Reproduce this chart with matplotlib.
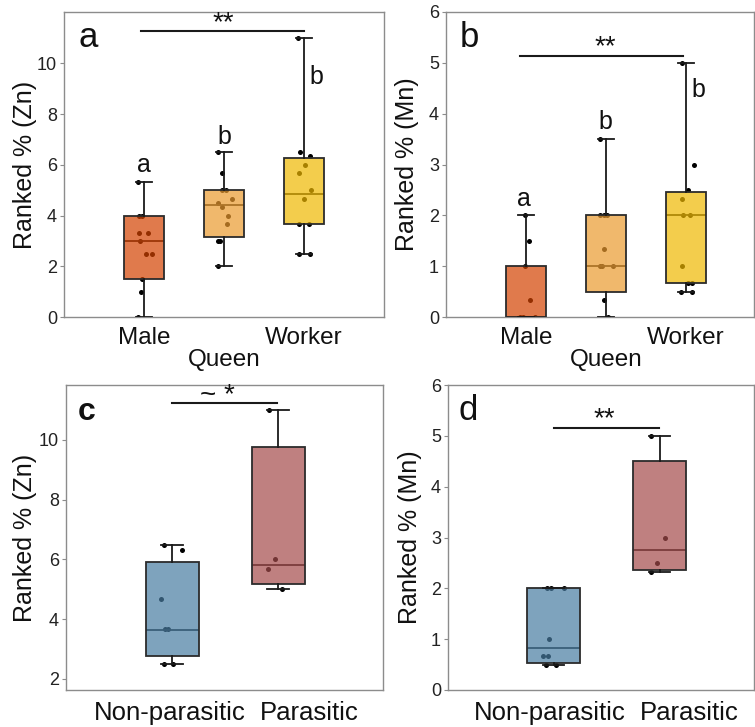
import matplotlib
matplotlib.use('Agg')
import matplotlib.pyplot as plt
from matplotlib.colors import to_rgba
from matplotlib.transforms import ScaledTranslation

plt.rcParams['font.family'] = ['Liberation Sans', 'DejaVu Sans']

# ---------- data ----------
caste = ['Male', 'Queen', 'Worker']
para = ['Non-parasitic', 'Parasitic']

# panel a : Zn by caste
zn_male = [5.33, 4.0, 4.0, 3.33, 3.33, 3.0, 2.5, 2.5, 1.5, 1.0, 0.0]
zn_queen = [6.5, 5.67, 5.0, 5.0, 4.67, 4.5, 4.33, 4.0, 3.67, 3.0, 3.0, 2.0]
zn_worker = [11.0, 6.5, 6.33, 6.0, 5.67, 5.0, 4.67, 3.67, 3.67, 2.5, 2.5]
jit_zn_male = [-0.07, -0.06, -0.02, -0.06, 0.05, -0.05, 0.03, 0.10, -0.02, -0.04, -0.08]
jit_zn_queen = [-0.07, -0.03, -0.025, 0.02, 0.10, -0.08, -0.03, 0.05, 0.04, -0.08, -0.05, -0.07]
jit_zn_worker = [-0.07, -0.05, 0.07, 0.01, -0.06, 0.09, 0.0, -0.06, 0.06, -0.06, 0.08]
# box stats: q1, median, q3, whisker low, whisker high
box_zn_caste = [(1.5, 3.0, 4.0, 0.0, 5.33),
                (3.17, 4.42, 5.0, 2.0, 6.5),
                (3.67, 4.83, 6.25, 2.5, 11.0)]

# panel b : Mn by caste
mn_male = [2.0, 1.5, 1.0, 0.33, 0.0, 0.0, 0.0]
mn_queen = [3.5, 2.0, 2.0, 2.0, 1.33, 1.0, 1.0, 1.0, 0.33, 0.0]
mn_worker = [5.0, 3.0, 2.5, 2.33, 2.0, 2.0, 1.0, 0.67, 0.67, 0.5, 0.5]
jit_mn_male = [-0.01, 0.04, -0.01, 0.05, -0.08, -0.04, 0.11]
jit_mn_queen = [-0.08, -0.08, -0.03, 0.01, -0.02, -0.08, -0.05, 0.09, -0.03, 0.03]
jit_mn_worker = [-0.05, 0.10, 0.02, -0.05, -0.04, 0.05, -0.05, 0.02, 0.07, -0.06, 0.08]
box_mn_caste = [(0.0, 0.0, 1.0, 0.0, 2.0),
                (0.5, 1.0, 2.0, 0.0, 3.5),
                (0.67, 2.0, 2.46, 0.5, 5.0)]

# panel c : Zn by parasitism
zn_np = [6.5, 6.33, 4.67, 3.67, 3.67, 2.5, 2.5]
zn_p = [11.0, 6.0, 5.67, 5.0]
jit_zn_np = [-0.075, 0.09, -0.10, -0.065, -0.035, -0.075, 0.01]
jit_zn_p = [-0.085, -0.03, -0.09, 0.035]
box_zn_para = [(2.77, 3.65, 5.9, 2.5, 6.5),
               (5.17, 5.83, 9.75, 5.0, 11.0)]

# panel d : Mn by parasitism
mn_np = [2.0, 2.0, 2.0, 1.0, 0.67, 0.67, 0.5, 0.5]
mn_p = [5.0, 3.0, 2.5, 2.33]
jit_mn_np = [-0.065, -0.025, 0.10, -0.05, -0.10, -0.055, -0.07, 0.02]
jit_mn_p = [-0.08, 0.045, -0.025, -0.08]
box_mn_para = [(0.54, 0.83, 2.0, 0.5, 2.0),
               (2.37, 2.75, 4.5, 2.33, 5.0)]

caste_colors = ['#D34200', '#EB9A2E', '#EFB800']
para_colors = ['#487CA1', '#A44B4B']

W, H = 755, 727
fig = plt.figure(figsize=(W / 100, H / 100), dpi=100)


def make_ax(left, top, right, bottom):
    return fig.add_axes([left / W, 1 - bottom / H, (right - left) / W, (bottom - top) / H])


def draw_panel(ax, labels, groups, jitters, boxes, colors, xlim, ylim, yticks, ylabel, xsize):
    pos = list(range(1, len(labels) + 1))
    stats = []
    for (q1, med, q3, lo, hi) in boxes:
        stats.append(dict(q1=q1, med=med, q3=q3, whislo=lo, whishi=hi, fliers=[]))
    res = ax.bxp(stats, positions=pos, widths=0.5, capwidths=0.2, patch_artist=True,
                 showfliers=False,
                 boxprops=dict(edgecolor='#2b2b2b', linewidth=1.3, zorder=3),
                 whiskerprops=dict(color='#1a1a1a', linewidth=1.3, zorder=3),
                 capprops=dict(color='#1a1a1a', linewidth=1.3, zorder=3),
                 medianprops=dict(color='#1a1a1a', linewidth=1.3, zorder=2))
    for patch, c in zip(res['boxes'], colors):
        patch.set_facecolor(to_rgba(c, 0.7))
    for p, vals, jit in zip(pos, groups, jitters):
        ax.scatter([p + j for j in jit], vals, s=13, color='black', zorder=1, linewidths=0)
    ax.set_xlim(*xlim)
    ax.set_ylim(*ylim)
    ax.set_yticks(yticks)
    ax.set_xticks(pos)
    ax.set_xticklabels(labels)
    for s in ax.spines.values():
        s.set_color('#8c8c8c')
        s.set_linewidth(1.0)
    ax.tick_params(axis='y', length=3, width=0.8, color='#8c8c8c', pad=2,
                   labelsize=13, labelcolor='#222222')
    ax.tick_params(axis='x', length=0, pad=7, labelsize=xsize, labelcolor='#111111')
    ax.set_ylabel(ylabel, fontsize=18, color='#111111', va='center')


def sig(ax, x0, x1, y, tx, ty, text):
    ax.plot([x0, x1], [y, y], color='#1a1a1a', lw=1.5, zorder=4)
    ax.text(tx, ty, text, ha='center', va='baseline', fontsize=20, color='#111111')


def shift_xlabels(ax, shifts_px):
    for lab, dx in zip(ax.get_xticklabels(), shifts_px):
        lab.set_transform(lab.get_transform() + ScaledTranslation(dx / 100, 0, fig.dpi_scale_trans))


# ---- a ----
ax_a = make_ax(64, 12, 384, 317)
draw_panel(ax_a, caste, [zn_male, zn_queen, zn_worker],
           [jit_zn_male, jit_zn_queen, jit_zn_worker], box_zn_caste, caste_colors,
           (0, 4), (0, 12.02), [0, 2, 4, 6, 8, 10], 'Ranked % (Zn)', 17.5)
ax_a.xaxis.get_major_ticks()[1].set_pad(23)
ax_a.yaxis.set_label_coords(-0.122, 0.5)
sig(ax_a, 0.96, 3.0, 11.27, 1.99, 11.3, '**')
for x, y, t in [(1, 6.0, 'a'), (2, 7.1, 'b'), (3.16, 9.45, 'b')]:
    ax_a.text(x, y, t, ha='center', va='center', fontsize=18, color='#111111')
ax_a.text(0.044, 0.885, 'a', transform=ax_a.transAxes, fontsize=25, color='#111111')

# ---- b ----
ax_b = make_ax(446, 12, 754, 317)
draw_panel(ax_b, caste, [mn_male, mn_queen, mn_worker],
           [jit_mn_male, jit_mn_queen, jit_mn_worker], box_mn_caste, caste_colors,
           (0, 3.85), (0, 6), [0, 1, 2, 3, 4, 5, 6], 'Ranked % (Mn)', 17.5)
ax_b.xaxis.get_major_ticks()[1].set_pad(23)
ax_b.yaxis.set_label_coords(-0.127, 0.5)
sig(ax_b, 0.92, 2.96, 5.13, 1.99, 5.16, '**')
for x, y, t in [(0.98, 2.32, 'a'), (1.99, 3.84, 'b'), (3.15, 4.47, 'b')]:
    ax_b.text(x, y, t, ha='center', va='center', fontsize=18, color='#111111')
ax_b.text(0.045, 0.885, 'b', transform=ax_b.transAxes, fontsize=25, color='#111111')

# ---- c ----
ax_c = make_ax(66, 385, 383, 690)
draw_panel(ax_c, para, [zn_np, zn_p], [jit_zn_np, jit_zn_p], box_zn_para, para_colors,
           (0, 2.99), (1.63, 11.84), [2, 4, 6, 8, 10], 'Ranked % (Zn)', 18.5)
ax_c.tick_params(axis='x', pad=8)
shift_xlabels(ax_c, [-2, 31])
ax_c.yaxis.set_label_coords(-0.129, 0.5)
sig(ax_c, 1.0, 1.99, 11.25, 1.43, 11.24, '~ *')
ax_c.text(0.038, 0.885, 'c', transform=ax_c.transAxes, fontsize=23, fontweight='bold',
          color='#111111')

# ---- d ----
ax_d = make_ax(448, 385, 754, 690)
draw_panel(ax_d, para, [mn_np, mn_p], [jit_mn_np, jit_mn_p], box_mn_para, para_colors,
           (0, 2.89), (0, 6), [0, 1, 2, 3, 4, 5, 6], 'Ranked % (Mn)', 18.5)
ax_d.tick_params(axis='x', pad=8)
shift_xlabels(ax_d, [-4, 29])
ax_d.yaxis.set_label_coords(-0.124, 0.5)
sig(ax_d, 1.0, 1.99, 5.16, 1.48, 5.18, '**')
ax_d.text(0.033, 0.885, 'd', transform=ax_d.transAxes, fontsize=25, color='#111111')

fig.savefig('out.png', dpi=100)
